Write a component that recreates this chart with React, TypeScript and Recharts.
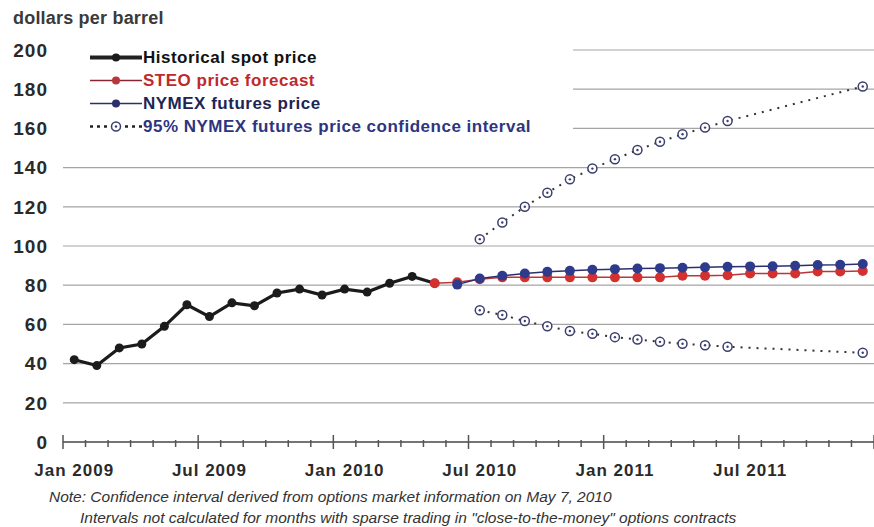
import { CartesianGrid, Legend, Line, LineChart, XAxis, YAxis } from "recharts"

// Monthly WTI prices, dollars per barrel
const months = [
  "Jan 2009", "Feb 2009", "Mar 2009", "Apr 2009", "May 2009", "Jun 2009",
  "Jul 2009", "Aug 2009", "Sep 2009", "Oct 2009", "Nov 2009", "Dec 2009",
  "Jan 2010", "Feb 2010", "Mar 2010", "Apr 2010", "May 2010", "Jun 2010",
  "Jul 2010", "Aug 2010", "Sep 2010", "Oct 2010", "Nov 2010", "Dec 2010",
  "Jan 2011", "Feb 2011", "Mar 2011", "Apr 2011", "May 2011", "Jun 2011",
  "Jul 2011", "Aug 2011", "Sep 2011", "Oct 2011", "Nov 2011", "Dec 2011",
]

const spotPrice = [
  42, 39, 48, 50, 59, 70, 64, 71, 69.5, 76, 78, 75,
  78, 76.5, 81, 84.5, 81, null, null, null, null, null, null, null,
  null, null, null, null, null, null, null, null, null, null, null, null,
]

const steoForecast = [
  null, null, null, null, null, null, null, null, null, null, null, null,
  null, null, null, null, 81, 81.5, 83, 84, 84, 84, 84, 84,
  84, 84, 84, 84.8, 84.8, 85.1, 86, 86, 86, 87, 87, 87.2,
]

const nymexFutures = [
  null, null, null, null, null, null, null, null, null, null, null, null,
  null, null, null, null, null, 80.3, 83.4, 84.8, 86, 86.8, 87.4, 87.9,
  88.2, 88.5, 88.7, 88.9, 89.1, 89.4, 89.6, 89.7, 89.9, 90.3, 90.4, 90.8,
]

const upperBand = [
  null, null, null, null, null, null, null, null, null, null, null, null,
  null, null, null, null, null, null, 103.5, 112, 120, 127.2, 134, 139.5,
  144.3, 149, 153.2, 157, 160.4, 163.8, null, null, null, null, null, 181.4,
]

const lowerBand = [
  null, null, null, null, null, null, null, null, null, null, null, null,
  null, null, null, null, null, null, 67.2, 64.8, 61.7, 59.1, 56.6, 55.2,
  53.5, 52.3, 51.1, 50.1, 49.4, 48.6, null, null, null, null, null, 45.5,
]

const yTicks = [0, 20, 40, 60, 80, 100, 120, 140, 160, 180, 200]
const labeledMonths = ["Jan 2009", "Jul 2009", "Jan 2010", "Jul 2010", "Jan 2011", "Jul 2011"]
const legendOrder = ["spot", "steo", "nymex", "upper"]

const data = months.map((month, i) => ({
  pos: i + 0.5,
  month,
  spot: spotPrice[i],
  steo: steoForecast[i],
  nymex: nymexFutures[i],
  upper: upperBand[i],
  lower: lowerBand[i],
}))

// month boundaries get tick marks, month centres carry the labels
const xTicks = months.flatMap((_, i) => [i, i + 0.5]).concat(months.length)

const font = '"Liberation Sans", Arial, Helvetica, sans-serif'

function MonthTick(props: any) {
  const { x, y, payload } = props
  const v = payload.value as number
  if (Number.isInteger(v)) {
    const major = v % 6 === 0
    return (
      <line
        x1={x}
        x2={x}
        y1={y - (major ? 7 : 2)}
        y2={y + (major ? 7 : 5)}
        stroke="#555"
        strokeWidth={1.5}
      />
    )
  }
  const label = months[Math.floor(v)]
  if (!labeledMonths.includes(label)) return <g />
  return (
    <text
      x={x}
      y={y + 34}
      textAnchor="middle"
      fontFamily={font}
      fontWeight="bold"
      fontSize={17}
      letterSpacing={1}
      fill="#2a2a2a"
    >
      {label}
    </text>
  )
}

function OpenDot(props: any) {
  const { cx, cy, value } = props
  if (value == null || cx == null || cy == null) return <g key={props.key} />
  return (
    <g key={props.key}>
      <circle cx={cx} cy={cy} r={4.5} fill="#fff" stroke="#3b3f6e" strokeWidth={1.5} />
      <circle cx={cx} cy={cy} r={1.2} fill="#3b3f6e" />
    </g>
  )
}

const textColors: Record<string, string> = {
  spot: "#111",
  steo: "#c0282c",
  nymex: "#1d2456",
  upper: "#2d3580",
}

function LegendBox(props: any) {
  const items = legendOrder
    .map((k) => (props.payload || []).find((p: any) => p.dataKey === k))
    .filter(Boolean)
  return (
    <div style={{ background: "#fff", width: 510, height: 96, paddingTop: 2, boxSizing: "border-box" }}>
      {items.map((item: any) => {
        const key = item.dataKey as string
        const dashed = key === "upper"
        return (
          <div key={key} style={{ display: "flex", alignItems: "center", height: 23 }}>
            <svg width={80} height={23} style={{ flex: "none" }}>
              <line
                x1={27}
                x2={79}
                y1={11.5}
                y2={11.5}
                stroke={key === "steo" ? "#8a2535" : key === "nymex" ? "#2b2f6b" : "#222"}
                strokeWidth={key === "spot" ? 4 : dashed ? 2.5 : 1.5}
                strokeDasharray={dashed ? "3 4" : undefined}
              />
              {dashed ? (
                <g>
                  <circle cx={53} cy={11.5} r={4.5} fill="#fff" stroke="#3b3f6e" strokeWidth={1.5} />
                  <circle cx={53} cy={11.5} r={1.2} fill="#3b3f6e" />
                </g>
              ) : (
                <circle cx={53} cy={11.5} r={4} fill={item.color} />
              )}
            </svg>
            <span
              style={{
                fontFamily: font,
                fontWeight: "bold",
                fontSize: 17,
                letterSpacing: 0.5,
                color: textColors[key],
                whiteSpace: "nowrap",
              }}
            >
              {item.value}
            </span>
          </div>
        )
      })}
    </div>
  )
}

const noteStyle = {
  position: "absolute" as const,
  lineHeight: "20px",
  fontFamily: font,
  fontStyle: "italic",
  fontSize: 15.5,
  color: "#333",
  whiteSpace: "nowrap" as const,
}

export default function App() {
  return (
    <div style={{ position: "absolute", left: 0, top: 0, width: 874, height: 527, background: "#fff" }}>
      <div
        style={{
          position: "absolute",
          left: 13,
          top: 8,
          height: 20,
          lineHeight: "20px",
          fontFamily: font,
          fontWeight: "bold",
          fontSize: 18,
          letterSpacing: 0.2,
          color: "#3a3a3a",
          whiteSpace: "nowrap",
        }}
      >
        dollars per barrel
      </div>
      <LineChart width={874} height={527} data={data} margin={{ top: 50, right: 0, left: 0, bottom: 55 }}>
        <CartesianGrid vertical={false} stroke="#a5a5a5" strokeWidth={1.2} />
        <XAxis
          type="number"
          dataKey="pos"
          domain={[0, months.length]}
          ticks={xTicks}
          interval={0}
          height={30}
          tickLine={false}
          tickSize={0}
          tickMargin={0}
          stroke="#555"
          strokeWidth={1.5}
          tick={<MonthTick />}
        />
        <YAxis
          domain={[0, 200]}
          ticks={yTicks}
          width={63}
          axisLine={false}
          tickLine={false}
          tickSize={0}
          tickMargin={15}
          tick={{ fontFamily: font, fontWeight: "bold", fontSize: 19, fill: "#2a2a2a", letterSpacing: 1 }}
        />
        <Legend
          layout="horizontal"
          verticalAlign="middle"
          align="center"
          width={510}
          height={96}
          wrapperStyle={{ left: 63, top: 44 }}
          content={<LegendBox />}
        />
        <Line
          dataKey="spot"
          name="Historical spot price"
          stroke="#1b1b1b"
          strokeWidth={3.2}
          dot={{ r: 4.5, fill: "#1b1b1b", stroke: "#1b1b1b", strokeWidth: 0 }}
          isAnimationActive={false}
        />
        <Line
          dataKey="steo"
          name="STEO price forecast"
          stroke="#b8373a"
          strokeWidth={1.5}
          dot={{ r: 5, fill: "#d3302f", stroke: "#d3302f", strokeWidth: 0 }}
          isAnimationActive={false}
        />
        <Line
          dataKey="nymex"
          name="NYMEX futures price"
          stroke="#2b2f6b"
          strokeWidth={1.5}
          dot={{ r: 5, fill: "#2e3a8c", stroke: "#2e3a8c", strokeWidth: 0 }}
          isAnimationActive={false}
        />
        <Line
          dataKey="upper"
          name="95% NYMEX futures price confidence interval"
          stroke="#333"
          strokeWidth={2}
          strokeDasharray="2 6"
          connectNulls
          dot={<OpenDot />}
          isAnimationActive={false}
        />
        <Line
          dataKey="lower"
          name="lower bound"
          stroke="#333"
          strokeWidth={2}
          strokeDasharray="2 6"
          connectNulls
          dot={<OpenDot />}
          isAnimationActive={false}
        />
      </LineChart>
      <div style={{ ...noteStyle, left: 49, top: 487 }}>
        Note: Confidence interval derived from options market information on May 7, 2010
      </div>
      <div style={{ ...noteStyle, left: 80, top: 508 }}>
        Intervals not calculated for months with sparse trading in "close-to-the-money" options contracts
      </div>
    </div>
  )
}
